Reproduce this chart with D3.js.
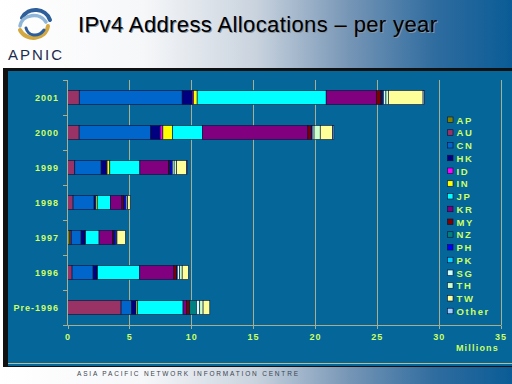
<!DOCTYPE html>
<html>
<head>
<meta charset="utf-8">
<script src="https://cdn.jsdelivr.net/npm/d3@7"></script>
<style>
  html, body { margin: 0; padding: 0; background: #fff; }
  svg { display: block; }
  .lbl { font-family: "Liberation Sans", Arial, sans-serif; font-weight: bold; fill: #ccff66; }
</style>
</head>
<body>
<svg id="chart" width="512" height="384"></svg>
<script>
// categories, top to bottom
const years = ["2001", "2000", "1999", "1998", "1997", "1996", "Pre-1996"];
const economies = ["AP", "AU", "CN", "HK", "ID", "IN", "JP", "KR", "MY", "NZ", "PH", "PK", "SG", "TH", "TW", "Other"];
const colors = ["#808000", "#993366", "#0066cc", "#000080", "#ff00ff", "#ffff00", "#00ffff", "#800080",
  "#800000", "#008080", "#0000ff", "#00ccff", "#ccffff", "#ccffcc", "#ffff99", "#99ccff"];

// millions of addresses, same order as economies
const v2001 = [0, 0.95, 8.32, 0.81, 0.1, 0.3, 10.43, 4.05, 0.38, 0.05, 0.1, 0.05, 0.2, 0.2, 2.8, 0.1];
const v2000 = [0, 0.94, 5.79, 0.76, 0.22, 0.78, 2.43, 8.51, 0.27, 0, 0.08, 0, 0.15, 0.5, 1.0, 0.1];
const v1999 = [0, 0.59, 2.13, 0.43, 0.05, 0.22, 2.43, 2.3, 0.1, 0.05, 0.17, 0, 0.15, 0.2, 0.81, 0.05];
const v1998 = [0, 0.45, 1.7, 0.14, 0, 0.11, 1.08, 0.92, 0.15, 0, 0.17, 0, 0.1, 0.05, 0.2, 0];
const v1997 = [0.2, 0.1, 0.8, 0.32, 0, 0.05, 1.08, 1.08, 0.12, 0, 0.15, 0, 0.05, 0.05, 0.68, 0];
const v1996 = [0, 0.37, 1.7, 0.32, 0, 0.05, 3.4, 2.76, 0.22, 0, 0.05, 0, 0.2, 0.2, 0.5, 0];
const vPre1996 = [0, 4.33, 0.86, 0.35, 0, 0.1, 3.7, 0.27, 0.27, 0.54, 0, 0, 0.27, 0.27, 0.54, 0];
const xTicks = [0, 5, 10, 15, 20, 25, 30, 35];

const rowsRaw = [v2001, v2000, v1999, v1998, v1997, v1996, vPre1996];
const rows = years.map((yr, i) => {
  const o = { year: yr };
  economies.forEach((e, j) => (o[e] = rowsRaw[i][j]));
  return o;
});

const svg = d3.select("#chart");
const defs = svg.append("defs");

// slide background gradient (white -> blue)
const grad = defs.append("linearGradient").attr("id", "bg").attr("x1", 0).attr("x2", 1).attr("y1", 0).attr("y2", 0);
[[0, "#ffffff"], [0.28, "#f6f7f9"], [0.5, "#c9d3de"], [0.68, "#7796b6"], [0.85, "#2f6c9f"], [1, "#0a5c96"]]
  .forEach(([o, c]) => grad.append("stop").attr("offset", o).attr("stop-color", c));

svg.append("rect").attr("width", 512).attr("height", 384).attr("fill", "url(#bg)");

// logo
const logo = svg.append("g").attr("fill", "none").attr("stroke-linecap", "round");
logo.append("path").attr("d", "M22,18 C28,6 46,8 50,20").attr("stroke", "#2f5f9a").attr("stroke-width", 4);
logo.append("path").attr("d", "M20,26 C22,14 40,12 46,22").attr("stroke", "#8fb6d8").attr("stroke-width", 3.5);
logo.append("path").attr("d", "M48,26 C46,40 26,42 20,30").attr("stroke", "#d4a840").attr("stroke-width", 4);
logo.append("path").attr("d", "M44,30 C38,38 28,36 26,28").attr("stroke", "#2f5f9a").attr("stroke-width", 3);
svg.append("text").attr("x", 8).attr("y", 59.5).attr("textLength", 54).attr("lengthAdjust", "spacing")
  .style("font-family", "Liberation Sans, Arial, sans-serif").style("font-size", "15px").attr("fill", "#1c2c4c")
  .text("APNIC");

// title
svg.append("text").attr("x", 79).attr("y", 33).attr("textLength", 359).attr("lengthAdjust", "spacing")
  .style("font-family", "Liberation Sans, Arial, sans-serif").style("font-size", "22px").attr("fill", "#8a95a0")
  .text("IPv4 Address Allocations – per year");
svg.append("text").attr("x", 78).attr("y", 32).attr("textLength", 359).attr("lengthAdjust", "spacing")
  .style("font-family", "Liberation Sans, Arial, sans-serif").style("font-size", "22px").attr("fill", "#000")
  .text("IPv4 Address Allocations – per year");

// chart panel
svg.append("rect").attr("x", 3).attr("y", 68).attr("width", 509).attr("height", 299).attr("fill", "#111");
svg.append("rect").attr("x", 8).attr("y", 71).attr("width", 504).attr("height", 295).attr("fill", "#046699");
svg.append("line").attr("x1", 8).attr("x2", 512).attr("y1", 363.5).attr("y2", 363.5)
  .attr("stroke", "#b8bf95").attr("stroke-width", 1);

// footer
svg.append("text").attr("x", 77).attr("y", 376).attr("textLength", 221).attr("lengthAdjust", "spacing")
  .style("font-family", "Liberation Sans, Arial, sans-serif").style("font-size", "6.5px").attr("fill", "#3a4450")
  .text("ASIA PACIFIC NETWORK INFORMATION CENTRE");

const x = d3.scaleLinear().domain([0, 35]).range([67.5, 500.5]);
const y = d3.scaleBand().domain(years).range([80, 325]).paddingInner(0.6).paddingOuter(0.3);
const gridCol = "#a9ae8e";

// grid lines
svg.append("g").selectAll("line").data(xTicks.slice(1)).join("line")
  .attr("x1", d => Math.round(x(d)) + 0.5).attr("x2", d => Math.round(x(d)) + 0.5)
  .attr("y1", 80).attr("y2", 325).attr("stroke", gridCol).attr("stroke-width", 1);

// stacked bars
const stack = d3.stack().keys(economies)(rows);
svg.append("g").selectAll("g").data(stack).join("g")
  .attr("fill", (d, i) => colors[i])
  .selectAll("rect").data(d => d.filter(s => s[1] - s[0] > 0)).join("rect")
  .attr("x", d => x(d[0]))
  .attr("width", d => x(d[1]) - x(d[0]))
  .attr("y", d => y(d.data.year))
  .attr("height", y.bandwidth())
  .attr("stroke", "#0a1030").attr("stroke-width", 0.6);

// axes
const step = y.step();
svg.append("line").attr("x1", 67.5).attr("x2", 67.5).attr("y1", 80).attr("y2", 325.5).attr("stroke", gridCol);
svg.append("line").attr("x1", 67.5).attr("x2", 501).attr("y1", 325.5).attr("y2", 325.5).attr("stroke", gridCol);
svg.append("g").selectAll("line").data(d3.range(years.length + 1)).join("line")
  .attr("x1", 63).attr("x2", 67.5).attr("y1", i => 80.5 + i * step).attr("y2", i => 80.5 + i * step)
  .attr("stroke", gridCol);
svg.append("g").selectAll("line").data(xTicks).join("line")
  .attr("x1", d => Math.round(x(d)) + 0.5).attr("x2", d => Math.round(x(d)) + 0.5)
  .attr("y1", 325.5).attr("y2", 329).attr("stroke", gridCol);

svg.append("g").selectAll("text").data(years).join("text").attr("class", "lbl")
  .attr("x", 59).attr("y", d => y(d) + y.bandwidth() / 2 + 3.5)
  .attr("text-anchor", "end").style("font-size", "9px").style("letter-spacing", "1px")
  .text(d => d);

svg.append("g").selectAll("text").data(xTicks).join("text").attr("class", "lbl")
  .attr("x", d => x(d) + 0.5).attr("y", 340)
  .attr("text-anchor", "middle").style("font-size", "9px").style("letter-spacing", "1px")
  .text(d => d);
svg.append("text").attr("class", "lbl").attr("x", 499).attr("y", 351).attr("text-anchor", "end")
  .style("font-size", "9px").style("letter-spacing", "1.2px").text("Millions");

// legend
const lg = svg.append("g").selectAll("g").data(economies).join("g")
  .attr("transform", (d, i) => `translate(447,${120 + i * 12.75})`);
lg.append("rect").attr("x", 0.5).attr("y", -3).attr("width", 5.5).attr("height", 5.5)
  .attr("fill", (d, i) => colors[i]).attr("stroke", "#0a1030").attr("stroke-width", 0.6);
lg.append("text").attr("class", "lbl").attr("x", 9.5).attr("y", 3.5)
  .style("font-size", "9.5px").style("letter-spacing", "1.6px").text(d => d);
</script>
</body>
</html>
